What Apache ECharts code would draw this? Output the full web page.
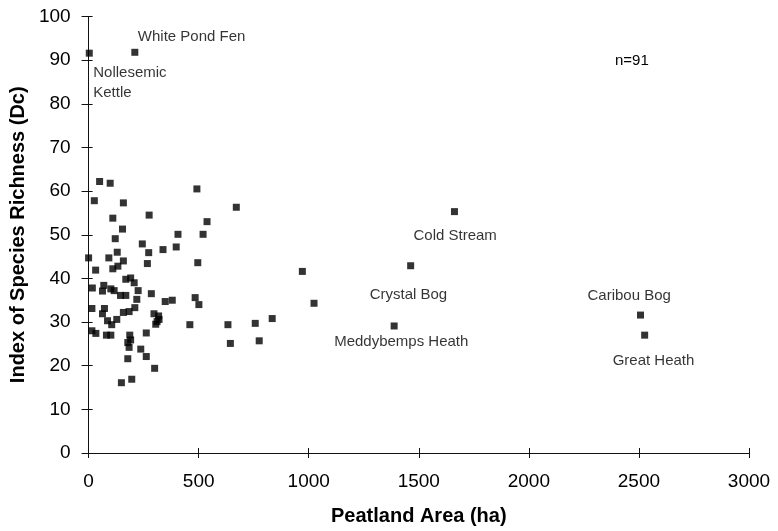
<!DOCTYPE html>
<html>
<head>
<meta charset="utf-8">
<script src="https://cdn.jsdelivr.net/npm/echarts@6/dist/echarts.min.js"></script>
<style>
html,body{margin:0;padding:0;background:#fff;}
#chart{width:778px;height:531px;}
</style>
</head>
<body>
<div id="chart"></div>
<script>
// Peatland area (ha) and index of species richness (Dc) for unlabeled sites
const areaHa = [50,98,492,26,158,275,110,538,154,406,520,121,244,338,398,273,130,0,92,158,496,133,110,267,32,169,191,207,17,69,63,101,116,225,285,145,169,484,380,348,219,501,
15,72,210,63,158,184,297,318,460,86,105,128,311,320,305,15,33,81,101,187,262,191,178,184,237,262,178,300,196,149,
671,971,1024,633,757,834,644,775];
const richness = [62.2,61.8,60.5,57.8,57.3,54.5,53.8,53,51.3,50.1,50.1,49.1,47.9,46.6,47.2,45.9,46,44.7,44.7,44,43.6,42.8,42.2,43.4,41.9,39.8,40.1,39,37.8,38.4,37.1,37.6,37.2,37.2,36.5,36.1,36.1,35.6,35,34.7,35.2,34,
33.1,33.1,33.3,31.9,32.2,32.4,31.9,31.4,29.4,30.3,29.4,30.6,30.1,30.6,29.5,28,27.4,27,27,27,27.5,25.9,25.3,24.2,23.8,22.1,21.6,19.4,16.9,16.1,
56.3,41.6,34.3,29.4,29.7,30.8,25.1,25.7];

// Named sites
const siteNames = ["Nollesemic\nKettle","White Pond Fen","Cold Stream","Crystal Bog","Meddybemps Heath","Caribou Bog","Great Heath"];
const siteArea = [3,210,1662,1463,1388,2507,2526];
const siteRich = [91.6,91.8,55.3,42.9,29.1,31.6,27.0];
// label offsets (style only)
const siteOffsets = [[4,30],[3,-15],[-41,24],[-41,29],[-60,16],[-53,-19],[-32,26]];

const xTicks = {min:0,max:3000,interval:500};
const yTicks = {min:0,max:100,interval:10};

const FONT = '"Liberation Sans", Arial, Helvetica, sans-serif';

const chart = echarts.init(document.getElementById('chart'), null, {renderer:'canvas'});

const plain = areaHa.map((a,i)=>[a, richness[i]]);
const named = siteArea.map((a,i)=>({
  value:[a, siteRich[i]],
  name: siteNames[i],
  label:{show:true, position:'inside', align:'left', verticalAlign:'middle',
         offset: siteOffsets[i], formatter: siteNames[i], color:'#000',
         fontSize:15, fontFamily:FONT, lineHeight:20}
}));

const axisLineStyle = {color:'#111', width:1};

chart.setOption({
  animation:false,
  backgroundColor:'#fff',
  title:{text:'n=91', left:610, top:48, textStyle:{fontSize:15, fontWeight:'normal', color:'#000', fontFamily:FONT}},
  grid:{left:86, right:29, top:16.5, bottom:74.5, containLabel:false},
  xAxis:[{
    type:'value', min:xTicks.min, max:xTicks.max, interval:xTicks.interval,
    name:'Peatland Area (ha)', nameLocation:'middle', nameGap:53,
    nameTextStyle:{fontSize:20, fontWeight:'bold', color:'#000', fontFamily:FONT},
    axisLine:{show:true, onZero:false, lineStyle:axisLineStyle},
    axisTick:{show:true, inside:false, length:5, lineStyle:axisLineStyle},
    axisLabel:{fontSize:19, color:'#000', margin:19, fontFamily:FONT, formatter:(v)=>String(v)},
    splitLine:{show:false}
  },{
    type:'value', min:xTicks.min, max:xTicks.max, interval:xTicks.interval, position:'bottom',
    axisLine:{show:false}, axisTick:{show:true, inside:true, length:5, lineStyle:axisLineStyle},
    axisLabel:{show:false}, splitLine:{show:false}
  }],
  yAxis:[{
    type:'value', min:yTicks.min, max:yTicks.max, interval:yTicks.interval,
    name:'Index of Species Richness (Dc)', nameLocation:'middle', nameGap:55,
    nameTextStyle:{fontSize:20, fontWeight:'bold', color:'#000', fontFamily:FONT},
    axisLine:{show:true, onZero:false, lineStyle:axisLineStyle},
    axisTick:{show:true, inside:false, length:7, lineStyle:axisLineStyle},
    axisLabel:{fontSize:19, color:'#000', margin:18, fontFamily:FONT},
    splitLine:{show:false}
  },{
    type:'value', min:yTicks.min, max:yTicks.max, interval:yTicks.interval, position:'left',
    axisLine:{show:false}, axisTick:{show:true, inside:true, length:4, lineStyle:axisLineStyle},
    axisLabel:{show:false}, splitLine:{show:false}
  }],
  series:[{
    type:'scatter', symbol:'rect', symbolSize:7, data:plain,
    itemStyle:{color:'#000'}, silent:true
  },{
    type:'scatter', symbol:'rect', symbolSize:7, data:named,
    itemStyle:{color:'#000'}, silent:true
  }]
});
</script>
</body>
</html>
